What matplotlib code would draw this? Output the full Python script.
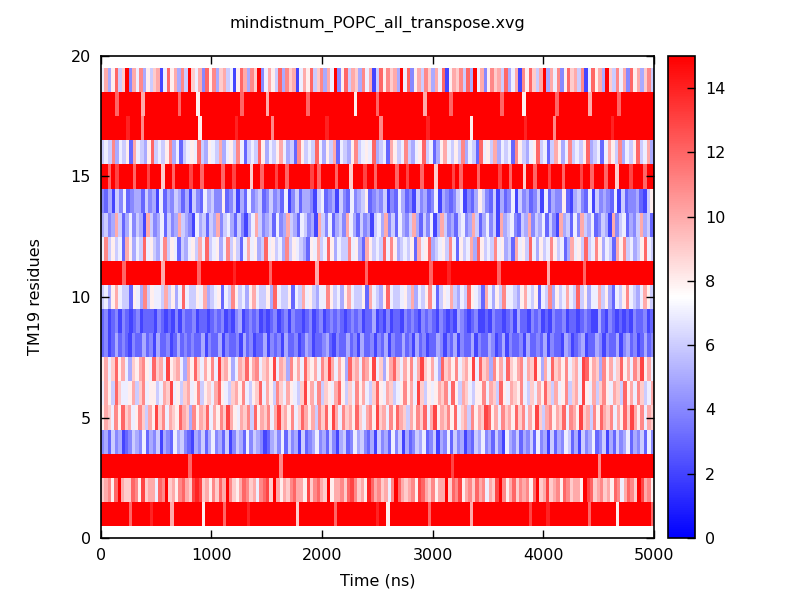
import numpy as np
import matplotlib
matplotlib.use("Agg")
import matplotlib.pyplot as plt
from matplotlib.colors import LinearSegmentedColormap, Normalize

# Minimum distance counts per residue over time, one hex digit (0-15) per
# time slice. Row 1 first.
residues = list(range(1, 20))
t_start, t_end = 0, 5000
rows = [
    "ffffffffcfffffefffffaffffffff8fffffcffffffefffffffffffff9ffffffffffcfffffffffffeff8fffffffffffcfffffffffffaffffffffffffffffdffffefffffffffffcfffffff8fffffffffc",
    "9ab8cfa99cb8d9aa7cbf9a8bca9ded9a8b9cafb98acb9a7bcd9fa8a9bcaa8d9bca9f8aab9cdb9a8ecab9a7bfca9ab8dca9b8aaf9cbd8ab9cab7a9dfb8ac9bab8cf9ad9ab8cb9aa8fdc9ab9a8cb7acb9fdab8",
    "fffffffffffffffffffffffffcfffffffffffffffffffffffffbffffffffffffffffffffffffffffffffffffffffffffffffdfffffffffffffffffffffffffffffffffffffffffbfffffffffffffff",
    "4536452346547354625437564325463574536246537465423564736452634574536425634756435264537462534657346254736452436574536427546354637452635476352645734625364573546374",
    "8a97b8c9a78b96a8d9b7a98ca95b8a9c7a8b9da87a9b6c8a9b7ad9a8b79ca8a6b9c8da7b9a8c97ab8d9a7b8ca96a8b9c7ad8a9b8c79a6b8a9dc8a7b9a8c9b7a8d96ab8a9c7ba8d9a6b8ca9b7a8c9da8b7a9",
    "7a86c9778a69b78867a9d7869a78b6897ac8769a8b7689c7a86b97a8769d8a7b6987ac8697b8a769c87a9678b8a7d96878a9b7c86a97688b7a96c87a98b7697a8c96a78b69a7d87a69b87a96c8a7b967a",
    "8a79c8a7598ab87c9a7d89a75a8c97a8b7d9a857a9c8ab79a8d7a95b8a7c98a7b9da7a85c9a7ba8d7958ac97a8b7ad98a75c9a8b79a8d7c9a5b8a7c98ab7a9d85a7c9a8b79a7dc8a95b8a79c8a7b9d8a7",
    "3423534324335342533423534343352433524334253423352434253342354233453243353425334243524335342534233542435243352433542352433425334352433254234523354243352453423534",
    "3423424323423332432324243342332343423245234342323423424332342342343432343423352324233243432434324323254323422324332342533243423243342332343225324323232433423",
    "6758a7663875b68776a6857c76687a5678376b86758a76685c7668376a786577b86758a76683a7658c766786a5768b73687a6576c8763a7586b77658a768376b5867a76c68577a6853768b7657a86",
    "ffffffcffffffffffafffffffffcfffffffffefffffffffcffffffffffffafffffffffffffcfffffffffffffffffcffffefffffffffffffcfffffffffffffafffffffffcfffffffffffffffffff",
    "7b68673a8576c78657b687365786a7c67857b68637a7856c78675b68765387a67c85766b7853a8676c7b8567683a78c56786b73867a5c8676b78563a786c75867b86735a786c67b85763a8b67568c76",
    "5645a63574652a64573645a6542756365a4675364257a64563745a65376452a6473564a7536452675a4637546a5364725a64536745a6357462a5674365a46573642a56374a65734652a4673546a563",
    "4352647345536452735465352643756448346253745634645372463554267345264374568345462437534264534725434672435864362534726453462735448325643726454372634453268",
    "ffcfdffffcfffdfff9ffcffffdffcfffffcffdffff9ffcfffdffcffffffdfcffffcfff9fffdffcfffffcffdfffcfff9ffffdfcffffcfffffdffcfff9ffcfffdfffcffffdffcfffcff9fffdfffcff",
    "676b57683a7658c6768b5736787c65876a5786b73676c85768a7563b8676c7586a37658b6787c5673a867b6578c67358a7686b5763c786a57673b86578c6736a857b6768c56737a86b5768c67a5",
    "fffffffefffbfffffffffffffff8fffffffffefffffffffbffffffffffffffeffffffffffffffbffffffffffffefffffffffff8ffffffffffffffefffffffbfffffffffffffffefffffffffff",
    "ffffcffffffafffffffffcffff8fffffffffffcffffffaffffffffffcffffffffffff8fffffcffffffffffffaffffffcfffffffffffffcfffff8ffffffffcffffffffafffffffcfffffffff",
    "7a58c69f4a7b5869a27c8a5b6f97a4c8b59a6728ca5b9f47a86c5b9a27a8c69b5a7f48c6a95b7a26c8b9a5f7c48a6b95a7c28a9b6c5f7a48b9a6c57a2b8c96af5a7b48c9a6b27c8a5f96b7a4c8a59b6",
]

cmap = LinearSegmentedColormap.from_list("bwr_gp", ["#0000ff", "#ffffff", "#ff0000"])
norm = Normalize(vmin=0, vmax=15)

plt.rcParams["font.family"] = "DejaVu Sans"
plt.rcParams["font.size"] = 11.5

fig = plt.figure(figsize=(8, 6), dpi=100)
ax = fig.add_axes([0.126, 0.1033, 0.6915, 0.8034])
cax = fig.add_axes([0.835, 0.1033, 0.034, 0.8034])

# Draw each residue as its own strip of cells.
for res, row in zip(residues, rows):
    vals = np.array([[int(c, 16) for c in row]], dtype=float)
    edges = np.linspace(t_start, t_end, vals.shape[1] + 1)
    mesh = ax.pcolormesh(edges, [res - 0.5, res + 0.5], vals,
                         cmap=cmap, norm=norm, shading="flat")

ax.set_xlim(0, 5000)
ax.set_ylim(0, 20)
ax.set_xticks(np.arange(0, 5001, 1000))
ax.set_yticks(np.arange(0, 21, 5))
ax.tick_params(direction="in", top=True, right=True, length=6, width=1, pad=7)
for s in ax.spines.values():
    s.set_linewidth(1.2)

ax.set_title("mindistnum_POPC_all_transpose.xvg", fontsize=11.5, pad=20)
ax.set_xlabel("Time (ns)", labelpad=8)
ax.set_ylabel("TM19 residues", labelpad=20)

cb = fig.colorbar(mesh, cax=cax)
cb.set_ticks(np.arange(0, 15, 2))
cb.ax.tick_params(direction="in", length=6, width=1, pad=7)
cb.outline.set_linewidth(1.2)

fig.savefig("out.png", dpi=100)
